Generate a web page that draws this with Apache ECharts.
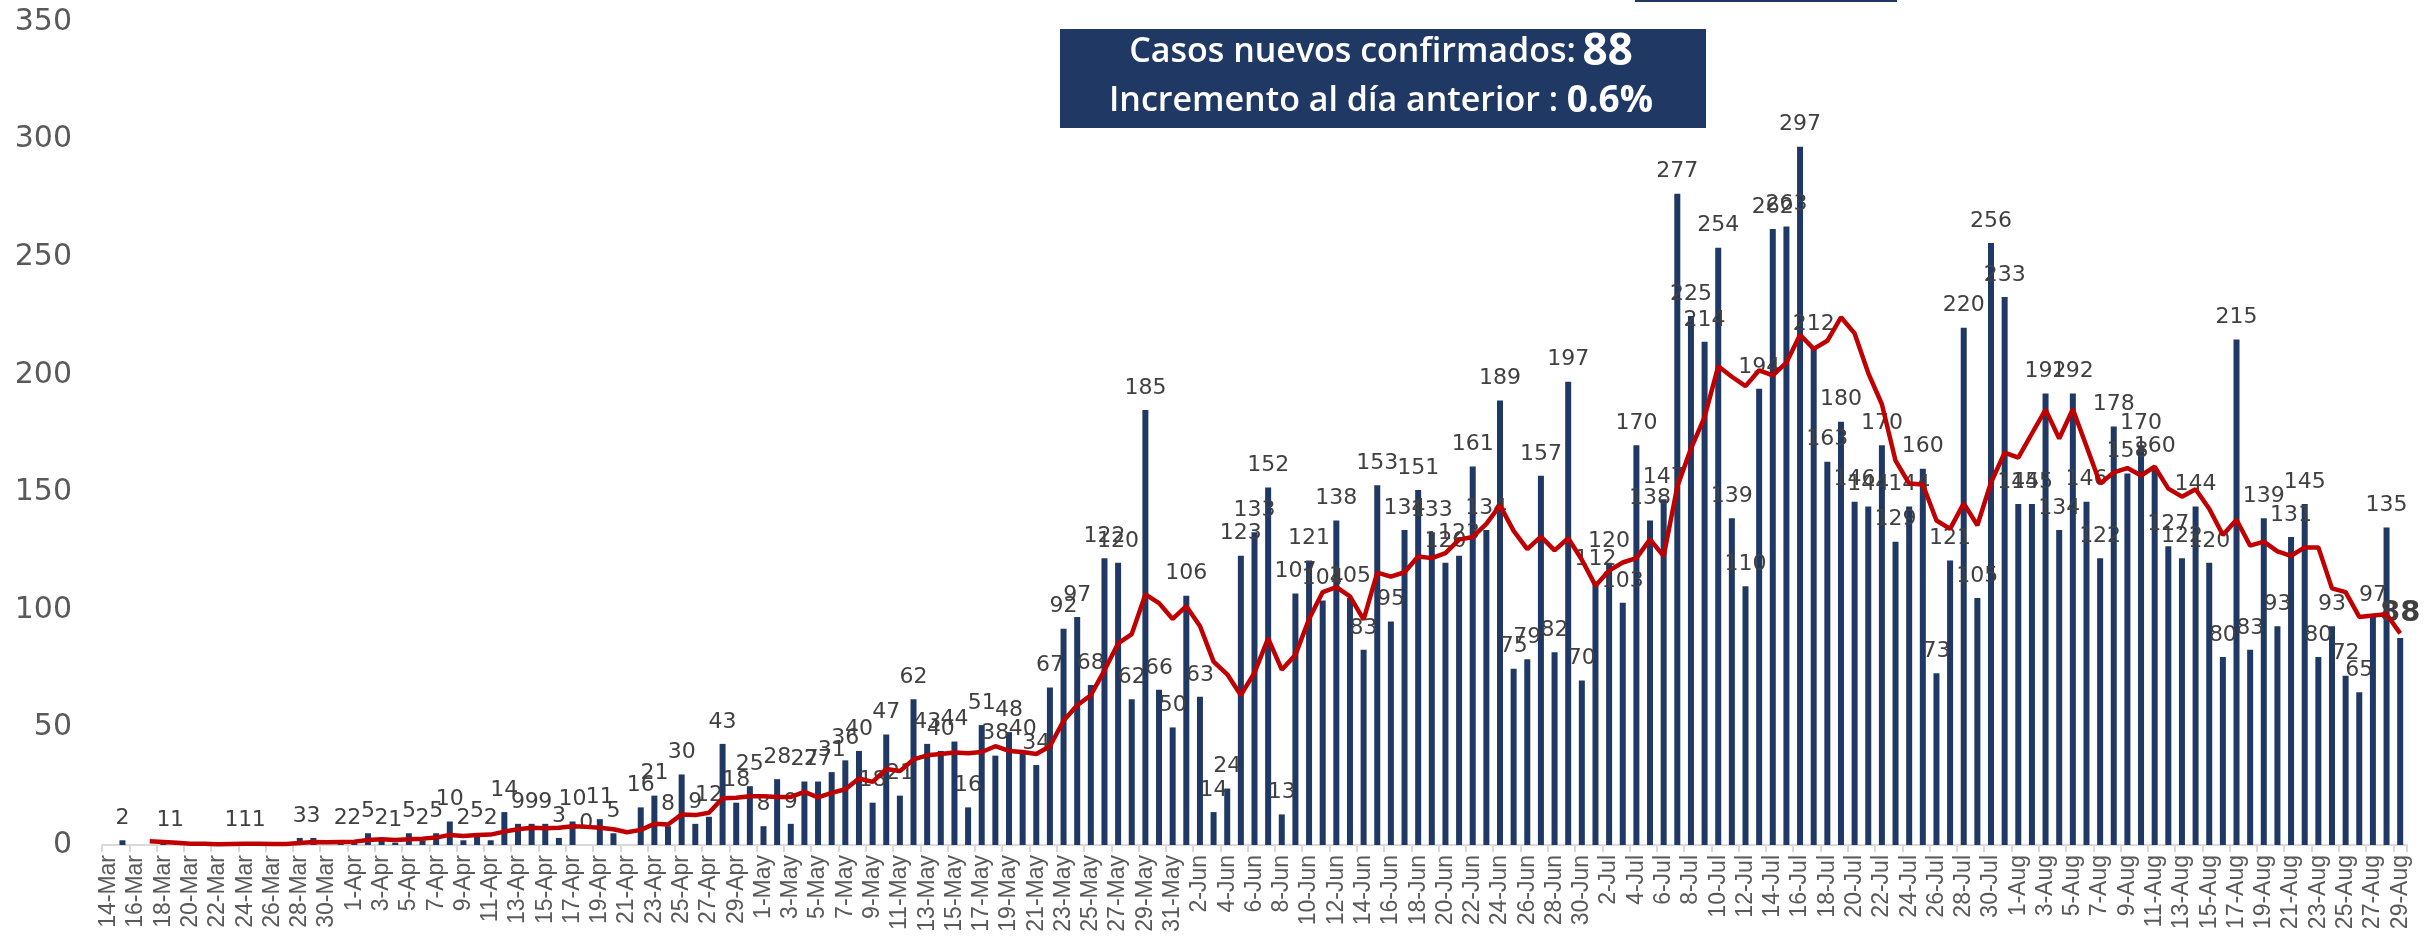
<!DOCTYPE html>
<html>
<head>
<meta charset="utf-8">
<script src="https://cdn.jsdelivr.net/npm/echarts@6/dist/echarts.min.js"></script>
<style>
html,body{margin:0;padding:0;background:#fff;}
#chart{width:2432px;height:940px;}
</style>
</head>
<body>
<div id="chart"></div>
<script>
const categories = [
'14-Mar','15-Mar','16-Mar','17-Mar','18-Mar','19-Mar','20-Mar','21-Mar','22-Mar','23-Mar','24-Mar','25-Mar','26-Mar','27-Mar','28-Mar','29-Mar','30-Mar','31-Mar',
'1-Apr','2-Apr','3-Apr','4-Apr','5-Apr','6-Apr','7-Apr','8-Apr','9-Apr','10-Apr','11-Apr','12-Apr','13-Apr','14-Apr','15-Apr','16-Apr','17-Apr','18-Apr','19-Apr','20-Apr','21-Apr','22-Apr','23-Apr','24-Apr','25-Apr','26-Apr','27-Apr','28-Apr','29-Apr','30-Apr',
'1-May','2-May','3-May','4-May','5-May','6-May','7-May','8-May','9-May','10-May','11-May','12-May','13-May','14-May','15-May','16-May','17-May','18-May','19-May','20-May','21-May','22-May','23-May','24-May','25-May','26-May','27-May','28-May','29-May','30-May','31-May',
'1-Jun','2-Jun','3-Jun','4-Jun','5-Jun','6-Jun','7-Jun','8-Jun','9-Jun','10-Jun','11-Jun','12-Jun','13-Jun','14-Jun','15-Jun','16-Jun','17-Jun','18-Jun','19-Jun','20-Jun','21-Jun','22-Jun','23-Jun','24-Jun','25-Jun','26-Jun','27-Jun','28-Jun','29-Jun','30-Jun',
'1-Jul','2-Jul','3-Jul','4-Jul','5-Jul','6-Jul','7-Jul','8-Jul','9-Jul','10-Jul','11-Jul','12-Jul','13-Jul','14-Jul','15-Jul','16-Jul','17-Jul','18-Jul','19-Jul','20-Jul','21-Jul','22-Jul','23-Jul','24-Jul','25-Jul','26-Jul','27-Jul','28-Jul','29-Jul','30-Jul','31-Jul',
'1-Aug','2-Aug','3-Aug','4-Aug','5-Aug','6-Aug','7-Aug','8-Aug','9-Aug','10-Aug','11-Aug','12-Aug','13-Aug','14-Aug','15-Aug','16-Aug','17-Aug','18-Aug','19-Aug','20-Aug','21-Aug','22-Aug','23-Aug','24-Aug','25-Aug','26-Aug','27-Aug','28-Aug','29-Aug'
];

// New confirmed cases per day (null = no value shown)
const newCases = [
null,2,null,null,1,1,null,null,null,1,1,1,null,null,3,3,null,2,
2,5,2,1,5,2,5,10,2,5,2,14,9,9,9,3,10,0,11,5,null,16,21,8,30,9,12,43,18,25,
8,28,9,27,27,31,36,40,18,47,21,62,43,40,44,16,51,38,48,40,34,67,92,97,68,122,120,62,185,66,50,
106,63,14,24,123,133,152,13,107,121,104,138,105,83,153,95,134,151,133,120,123,161,134,189,75,79,157,82,197,70,
112,120,103,170,138,147,277,225,214,254,139,110,194,262,263,297,212,163,180,146,144,170,129,144,160,73,121,220,105,256,233,
145,145,192,134,192,146,122,178,158,170,160,127,122,144,120,80,215,83,139,93,131,145,80,93,72,65,97,135,88
];

// 7-day average line as drawn (values read / derived from the chart)
const avgLine = [
null,null,null,1.6,1.3,1.0,0.57,0.57,0.29,0.43,0.57,0.57,0.43,0.43,0.86,1.29,1.14,1.29,
1.43,2.14,2.43,2.14,2.43,2.71,3.14,4.29,3.86,4.29,4.43,5.71,6.71,7.29,7.14,7.29,8.0,7.71,7.29,6.71,5.43,6.43,9.0,8.71,13.0,12.71,13.71,19.86,20.14,20.71,
20.71,20.43,20.43,22.57,20.29,22.14,23.71,28.29,26.86,32.29,31.43,36.43,38.14,38.71,39.29,39.0,39.57,42.0,40.0,39.57,38.71,42.0,52.86,59.43,63.71,74.29,85.71,89.71,106.57,102.86,96.14,
101.57,93.14,78.0,72.57,63.71,73.29,87.86,74.57,80.86,96.14,107.57,109.71,105.71,95.86,115.86,114.14,116.0,122.71,122.0,124.14,129.86,131.0,136.57,144.43,133.57,125.86,131.14,125.29,130.43,121.29,
110.29,116.71,120.14,122.0,130.0,122.86,152.43,168.57,182.0,203.57,199.14,195.14,201.86,199.71,205.14,217.0,211.0,214.43,224.43,217.57,200.71,187.43,163.43,153.71,153.29,138.0,134.43,145.29,136.0,154.14,166.86,
164.71,175.0,185.14,172.86,185.29,169.57,153.71,158.43,160.29,157.14,160.86,151.57,148.14,151.29,143.0,131.86,138.29,127.29,129.0,124.86,123.0,126.57,126.57,109.14,107.57,97.0,97.57,98.14,90.0
];

const yTicks = { min: 0, max: 350, interval: 50 };
const boxLine1 = 'Casos nuevos confirmados:';
const boxValue1 = '88';
const boxLine2 = 'Incremento al día anterior :';
const boxValue2 = '0.6%';

const lastIdx = newCases.length - 1;
const barData = newCases.map((v, i) => i === lastIdx
  ? { value: v, label: { fontSize: 29, fontWeight: 'bold', color: '#404040', distance: 10 } }
  : v);

const chart = echarts.init(document.getElementById('chart'), null, { renderer: 'canvas' });
chart.setOption({
  animation: false,
  backgroundColor: '#ffffff',
  grid: { left: 102, right: 25, top: 22, bottom: 95 },
  xAxis: {
    type: 'category',
    data: categories,
    boundaryGap: true,
    axisLine: { lineStyle: { color: '#D9D9D9', width: 2 } },
    axisTick: { show: true, interval: 1, length: 7, lineStyle: { color: '#D9D9D9', width: 2 } },
    axisLabel: {
      interval: 1, rotate: 90, margin: 10,
      fontFamily: 'Liberation Sans', fontSize: 23, color: '#595959'
    }
  },
  yAxis: {
    type: 'value',
    min: yTicks.min, max: yTicks.max, interval: yTicks.interval,
    axisLine: { show: false },
    axisTick: { show: false },
    splitLine: { show: false },
    axisLabel: { fontFamily: 'DejaVu Sans', fontSize: 30, color: '#595959', margin: 30 }
  },
  series: [
    {
      type: 'bar',
      data: barData,
      barWidth: 6,
      z: 2,
      itemStyle: { color: '#1F3864' },
      label: {
        show: true, position: 'top', distance: 11,
        fontFamily: 'DejaVu Sans', fontSize: 22, color: '#404040'
      }
    },
    {
      type: 'line',
      data: avgLine,
      z: 5,
      symbol: 'none',
      smooth: false,
      connectNulls: false,
      lineStyle: { color: '#C00000', width: 4.5 }
    }
  ],
  graphic: [
    { type: 'rect', shape: { x: 1635, y: 0, width: 262, height: 2 }, style: { fill: '#203864' } },
    { type: 'rect', shape: { x: 1060, y: 29, width: 646, height: 99 }, style: { fill: '#203864' } },
    {
      type: 'text', x: 1381, y: 52,
      style: {
        text: '{a|' + boxLine1 + '}  {b|' + boxValue1 + '}',
        align: 'center', verticalAlign: 'middle',
        rich: {
          a: { fontFamily: 'Open Sans', fontSize: 34, fontWeight: 600, fill: '#ffffff' },
          b: { fontFamily: 'Open Sans', fontSize: 44, fontWeight: 'bold', fill: '#ffffff' }
        }
      }
    },
    {
      type: 'text', x: 1381, y: 101,
      style: {
        text: '{a|' + boxLine2 + ' }{b|' + boxValue2 + '}',
        align: 'center', verticalAlign: 'middle',
        rich: {
          a: { fontFamily: 'Open Sans', fontSize: 34, fontWeight: 600, fill: '#ffffff' },
          b: { fontFamily: 'Open Sans', fontSize: 37, fontWeight: 'bold', fill: '#ffffff' }
        }
      }
    }
  ]
});
</script>
</body>
</html>
